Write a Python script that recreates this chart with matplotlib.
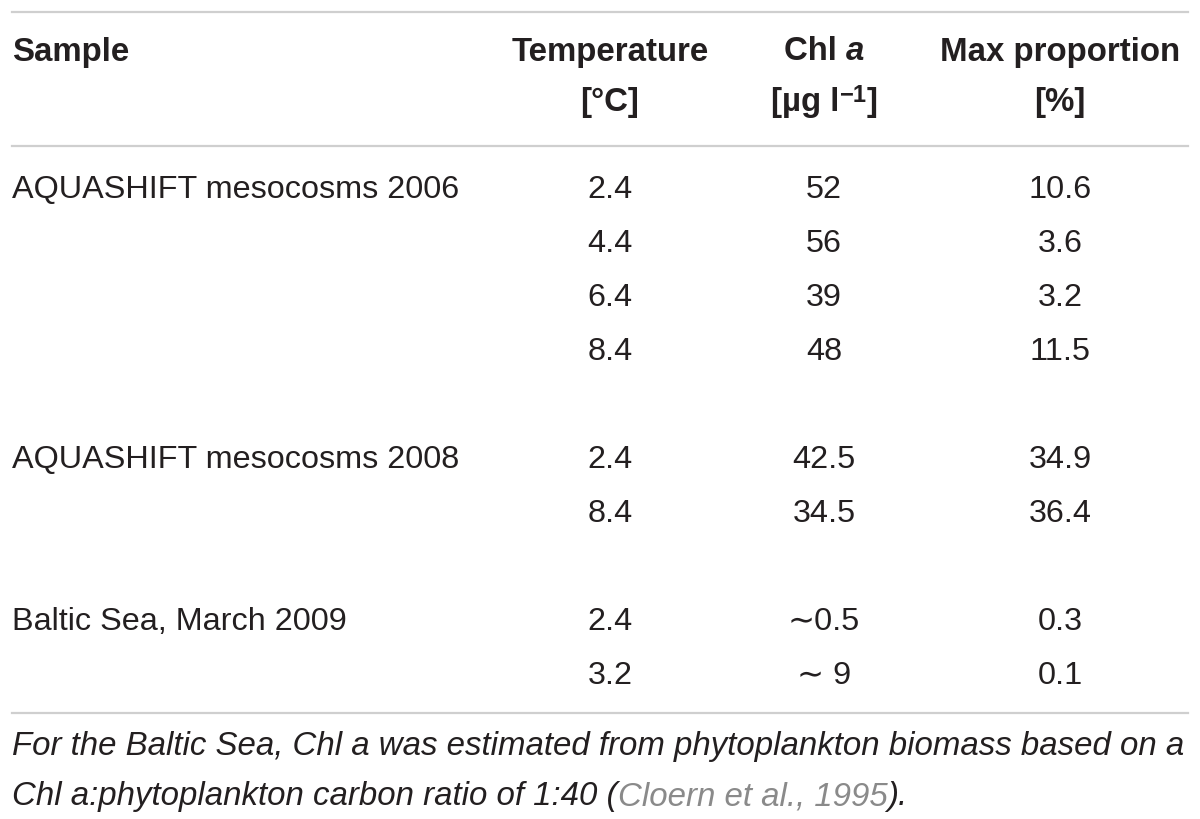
import matplotlib
matplotlib.use("Agg")
import matplotlib.pyplot as plt

# table content
samples = ["AQUASHIFT mesocosms 2006", "", "", "",
           "AQUASHIFT mesocosms 2008", "",
           "Baltic Sea, March 2009", ""]
row_slots = [0, 1, 2, 3, 5, 6, 8, 9]
temperature = ["2.4", "4.4", "6.4", "8.4", "2.4", "8.4", "2.4", "3.2"]
chl_a = ["52", "56", "39", "48", "42.5", "34.5", "\u223c0.5", "\u223c 9"]
max_prop = ["10.6", "3.6", "3.2", "11.5", "34.9", "36.4", "0.3", "0.1"]

note_line1 = "For the Baltic Sea, Chl a was estimated from phytoplankton biomass based on a"
note_line2 = "Chl a:phytoplankton carbon ratio of 1:40 ("
note_ref = "Cloern et al., 1995"
note_end = ")."

FONT = ["Liberation Sans", "DejaVu Sans"]
TXT = "#231f20"
REF = "#8a8a8a"
LINE = "#cfcfcf"
FS = 23.3       # body
FS_B = 23.8     # header (bold)
FS_I = 23.8     # footnote (italic)

fig = plt.figure(figsize=(12, 8.2), dpi=100)
ax = fig.add_axes([0, 0, 1, 1])
ax.set_xlim(0, 1200)
ax.set_ylim(820, 0)
ax.axis("off")

col_x = [610, 824, 1060]
sample_x = 12
row_y0 = 190
row_h = 54


def runs(x, y, parts, size=FS):
    # draw consecutive text pieces left to right, starting at x
    fig.canvas.draw()
    r = fig.canvas.get_renderer()
    inv = ax.transData.inverted()
    for txt, kw in parts:
        kw = dict(kw)
        dy = kw.pop("dy", 0)
        sz = kw.pop("size", size)
        t = ax.text(x, y + dy, txt, fontsize=sz, family=FONT, color=kw.pop("color", TXT),
                    va="center", ha="left", **kw)
        bb = t.get_window_extent(renderer=r)
        x0 = inv.transform((bb.x0, bb.y0))[0]
        x1 = inv.transform((bb.x1, bb.y0))[0]
        x += x1 - x0
    return x


def runs_width(parts, size=FS):
    fig.canvas.draw()
    r = fig.canvas.get_renderer()
    w = 0
    for txt, kw in parts:
        kw = dict(kw)
        kw.pop("dy", None)
        kw.pop("color", None)
        sz = kw.pop("size", size)
        t = ax.text(0, 0, txt, fontsize=sz, family=FONT, **kw)
        bb = t.get_window_extent(renderer=r)
        w += bb.width
        t.remove()
    return w


# rules
ax.plot([12, 1188], [13, 13], color=LINE, lw=1.6)
ax.plot([12, 1188], [147, 147], color=LINE, lw=1.6)
ax.plot([12, 1188], [714, 714], color=LINE, lw=1.6)

# header
hy1, hy2 = 52, 103
hdr = dict(fontsize=FS_B, family=FONT, weight="bold", color=TXT, va="center")
ax.text(sample_x, hy1, "Sample", **hdr)
ax.text(col_x[0], hy1, "Temperature", ha="center", **hdr)
ax.text(col_x[0], hy2, "[\u00b0C]", ha="center", **hdr)
chl_parts = [("Chl ", {"weight": "bold"}), ("a", {"weight": "bold", "style": "italic"})]
w = runs_width(chl_parts, FS_B)
runs(col_x[1] - w / 2, hy1, chl_parts, FS_B)
unit_parts = [("[\u00b5g l", {"weight": "bold"}),
              ("\u22121", {"weight": "bold", "size": FS_B * 0.72, "dy": -8}),
              ("]", {"weight": "bold"})]
w = runs_width(unit_parts, FS_B)
runs(col_x[1] - w / 2, hy2, unit_parts, FS_B)
ax.text(col_x[2], hy1, "Max proportion", ha="center", **hdr)
ax.text(col_x[2], hy2, "[%]", ha="center", **hdr)

# body
for s, slot, t, c, m in zip(samples, row_slots, temperature, chl_a, max_prop):
    y = row_y0 + slot * row_h
    if s:
        ax.text(sample_x, y, s, fontsize=FS, family=FONT, color=TXT, va="center")
    for xc, v in zip(col_x, [t, c, m]):
        ax.text(xc, y, v, fontsize=FS, family=FONT, color=TXT, va="center", ha="center")

# footnote
ax.text(sample_x, 747, note_line1, fontsize=FS_I, family=FONT, style="italic", color=TXT,
        va="center")
runs(sample_x, 797, [(note_line2, {"style": "italic"}),
                     (note_ref, {"style": "italic", "color": REF}),
                     (note_end, {"style": "italic"})], FS_I)

fig.savefig("out.png", dpi=100)
